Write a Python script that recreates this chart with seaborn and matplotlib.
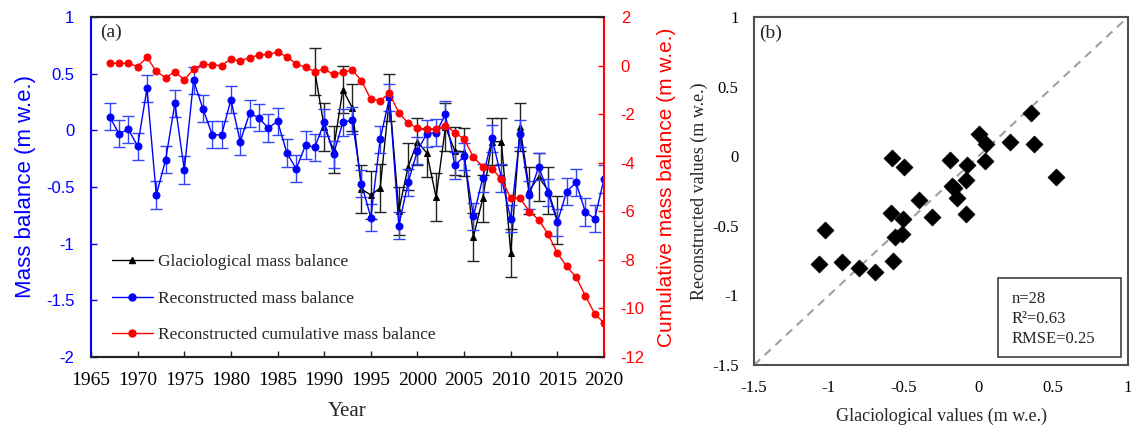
import numpy as np
import pandas as pd
import matplotlib
matplotlib.use("Agg")
import matplotlib.pyplot as plt
from matplotlib.lines import Line2D
from matplotlib.patches import Rectangle
import seaborn as sns

# ---------------- data ----------------
years = list(range(1967, 2021))
reconstructed = [0.12, -0.03, 0.01, -0.14, 0.37, -0.57, -0.26, 0.24, -0.35, 0.44,
                 0.19, -0.04, -0.04, 0.27, -0.10, 0.15, 0.11, 0.02, 0.08, -0.20,
                 -0.34, -0.13, -0.15, 0.07, -0.21, 0.07, 0.09, -0.47, -0.77, -0.08,
                 0.29, -0.84, -0.46, -0.18, -0.03, -0.02, 0.14, -0.31, -0.23, -0.76,
                 -0.42, -0.07, -0.42, -0.78, -0.03, -0.57, -0.32, -0.55, -0.81, -0.54,
                 -0.46, -0.72, -0.78, -0.43]
reconstructed_err = 0.12

cumulative = [0.10, 0.09, 0.09, -0.04, 0.34, -0.24, -0.50, -0.25, -0.59, -0.15,
              0.07, 0.02, 0.00, 0.27, 0.19, 0.33, 0.43, 0.47, 0.55, 0.37,
              0.07, -0.07, -0.25, -0.15, -0.36, -0.28, -0.18, -0.62, -1.39, -1.44,
              -1.14, -1.94, -2.37, -2.58, -2.60, -2.61, -2.47, -2.76, -3.02, -3.77,
              -4.16, -4.25, -4.67, -5.46, -5.46, -6.01, -6.35, -6.94, -7.72, -8.27,
              -8.71, -9.47, -10.22, -10.60]

glacio_years = list(range(1989, 2016))
glaciological = [0.52, 0.03, -0.17, 0.36, 0.20, -0.52, -0.57, -0.51, 0.29, -0.71,
                 -0.32, -0.10, -0.20, -0.59, 0.03, -0.18, -0.19, -0.94, -0.60, -0.10,
                 -0.10, -1.08, 0.03, -0.53, -0.41, -0.53, -0.79]
glaciological_err = 0.21

# scatter panel: glaciological vs reconstructed values
glacio_values = [-0.58, -0.495, -0.397, -0.312, -0.586, -0.506, -0.557, -0.513,
                 -1.025, -1.063, -0.914, -0.796, -0.69, -0.569, 0.352, 0.004,
                 0.051, 0.211, 0.374, -0.19, -0.078, 0.044, -0.085, -0.178,
                 -0.16, -0.145, -0.085, 0.52]
recon_values = [-0.015, -0.075, -0.315, -0.44, -0.41, -0.45, -0.578, -0.56,
                -0.53, -0.774, -0.758, -0.80, -0.83, -0.75, 0.313, 0.16,
                0.085, 0.104, 0.085, -0.027, -0.063, -0.032, -0.171, -0.212,
                -0.23, -0.30, -0.418, -0.15]
stats_text = "n=28\nR\u00b2=0.63\nRMSE=0.25"

# ---------------- style ----------------
sns.set_theme(style="white")
plt.rcParams["font.family"] = ["Liberation Serif", "DejaVu Serif"]
plt.rcParams["axes.unicode_minus"] = False
SANS = "Liberation Sans"

W, H = 1131, 426
fig = plt.figure(figsize=(W / 100, H / 100), dpi=100)

# ---------------- panel (a) ----------------
ax = fig.add_axes([91 / W, (H - 357) / H, 513 / W, 340 / H])
ax2 = ax.twinx()

df_rec = pd.DataFrame({"year": years, "mb": reconstructed})
df_gla = pd.DataFrame({"year": glacio_years, "mb": glaciological})
df_cum = pd.DataFrame({"year": years, "cum": cumulative})

ax.errorbar(df_gla["year"], df_gla["mb"], yerr=glaciological_err, fmt="none",
            ecolor="#222222", elinewidth=1.0, capsize=4, capthick=1.0, zorder=2)
sns.lineplot(data=df_gla, x="year", y="mb", ax=ax, color="black", lw=1.0,
             marker="^", markersize=5, markeredgecolor="black", zorder=3)
ax.errorbar(df_rec["year"], df_rec["mb"], yerr=reconstructed_err, fmt="none",
            ecolor="#3344ff", elinewidth=1.0, capsize=4, capthick=1.0, zorder=4)
sns.lineplot(data=df_rec, x="year", y="mb", ax=ax, color="blue", lw=1.0,
             marker="o", markersize=5, markeredgecolor="blue", zorder=5)
sns.lineplot(data=df_cum, x="year", y="cum", ax=ax2, color="red", lw=1.0,
             marker="o", markersize=5, markeredgecolor="red", zorder=6)

ax.set_xlim(1965, 2020)
ax.set_ylim(-2, 1)
ax.set_xticks(range(1965, 2021, 5))
ax.set_yticks(np.arange(-2, 1.01, 0.5))
ax.set_yticklabels([f"{v:g}" for v in np.arange(-2, 1.01, 0.5)],
                   fontfamily=SANS, color="blue", fontsize=12)
ax.set_xticklabels([str(y) for y in range(1965, 2021, 5)], fontsize=14)
ax2.set_ylim(-12, 2)
ax2.set_yticks(range(-12, 3, 2))
ax2.set_yticklabels([str(v) for v in range(-12, 3, 2)],
                    fontfamily=SANS, color="red", fontsize=12)

ax.tick_params(axis="x", direction="in", length=4, width=1, pad=11, colors="#222222",
               bottom=True, top=False, labelcolor="black")
ax.tick_params(axis="y", direction="in", length=4, width=1, pad=12, colors="blue",
               left=True)
ax2.tick_params(axis="y", direction="in", length=4, width=1, pad=12, colors="red",
                right=True)

for a in (ax, ax2):
    a.spines["top"].set_color("#222222")
    a.spines["bottom"].set_color("#222222")
    a.spines["top"].set_linewidth(1.5)
    a.spines["bottom"].set_linewidth(1.5)
ax.spines["left"].set_color("blue")
ax.spines["left"].set_linewidth(1.5)
ax.spines["right"].set_visible(False)
ax2.spines["left"].set_visible(False)
ax2.spines["right"].set_color("red")
ax2.spines["right"].set_linewidth(1.5)
ax.grid(False)
ax2.grid(False)

ax.set_xlabel("Year", fontsize=15, labelpad=9)
ax.set_ylabel("Mass balance (m w.e.)", fontsize=16, color="blue",
              fontfamily=SANS, labelpad=7)
ax2.set_ylabel("Cumulative mass balance (m w.e.)", fontsize=15, color="red",
               fontfamily=SANS, rotation=90, labelpad=9)
ax.text(0.018, 0.955, "(a)", transform=ax.transAxes, fontsize=14,
        ha="left", va="center")

handles = [
    Line2D([], [], color="black", lw=1.0, marker="^", markersize=5),
    Line2D([], [], color="blue", lw=1.0, marker="o", markersize=5),
    Line2D([], [], color="red", lw=1.0, marker="o", markersize=5),
]
labels = ["Glaciological mass balance", "Reconstructed mass balance",
          "Reconstructed cumulative mass balance"]
ax2.legend(handles, labels, loc="upper left", bbox_to_anchor=(0.04, 0.303),
           frameon=False, fontsize=12.5, handlelength=2.4, handletextpad=0.3,
           labelspacing=1.18, borderpad=0, borderaxespad=0)

# ---------------- panel (b) ----------------
axb = fig.add_axes([754 / W, (H - 365) / H, 374 / W, 348 / H])
axb.axline((0, 0), slope=1, ls=(0, (4, 3)), color="#a0a0a0", lw=1.5, zorder=1)
df_sc = pd.DataFrame({"glacio": glacio_values, "recon": recon_values})
sns.scatterplot(data=df_sc, x="glacio", y="recon", ax=axb, marker="D", s=75,
                color="black", edgecolor="black", linewidth=0.5, zorder=3)
axb.set_xlim(-1.5, 1)
axb.set_ylim(-1.5, 1)
ticks_b = np.arange(-1.5, 1.01, 0.5)
axb.set_xticks(ticks_b)
axb.set_yticks(ticks_b)
axb.set_xticklabels([f"{v:g}" for v in ticks_b], fontsize=12)
axb.set_yticklabels([f"{v:g}" for v in ticks_b], fontsize=12)
axb.tick_params(direction="in", length=4, width=1, colors="#404040",
                labelcolor="black", pad=11)
for s in axb.spines.values():
    s.set_color("#505050")
    s.set_linewidth(1.5)
axb.grid(False)
axb.set_xlabel("Glaciological values (m w.e.)", fontsize=13, labelpad=8)
axb.set_ylabel("Reconstructed values (m w.e.)", fontsize=13, labelpad=3)
axb.text(0.013, 0.953, "(b)", transform=axb.transAxes, fontsize=14,
         ha="left", va="center")
axb.add_patch(Rectangle((0.652, 0.023), 0.329, 0.227, transform=axb.transAxes,
                        fill=False, ec="#404040", lw=1.2, zorder=4))
axb.text(0.688, 0.132, stats_text, transform=axb.transAxes, fontsize=12,
         ha="left", va="center", linespacing=1.3, zorder=5)

fig.savefig("out.png", dpi=100)
